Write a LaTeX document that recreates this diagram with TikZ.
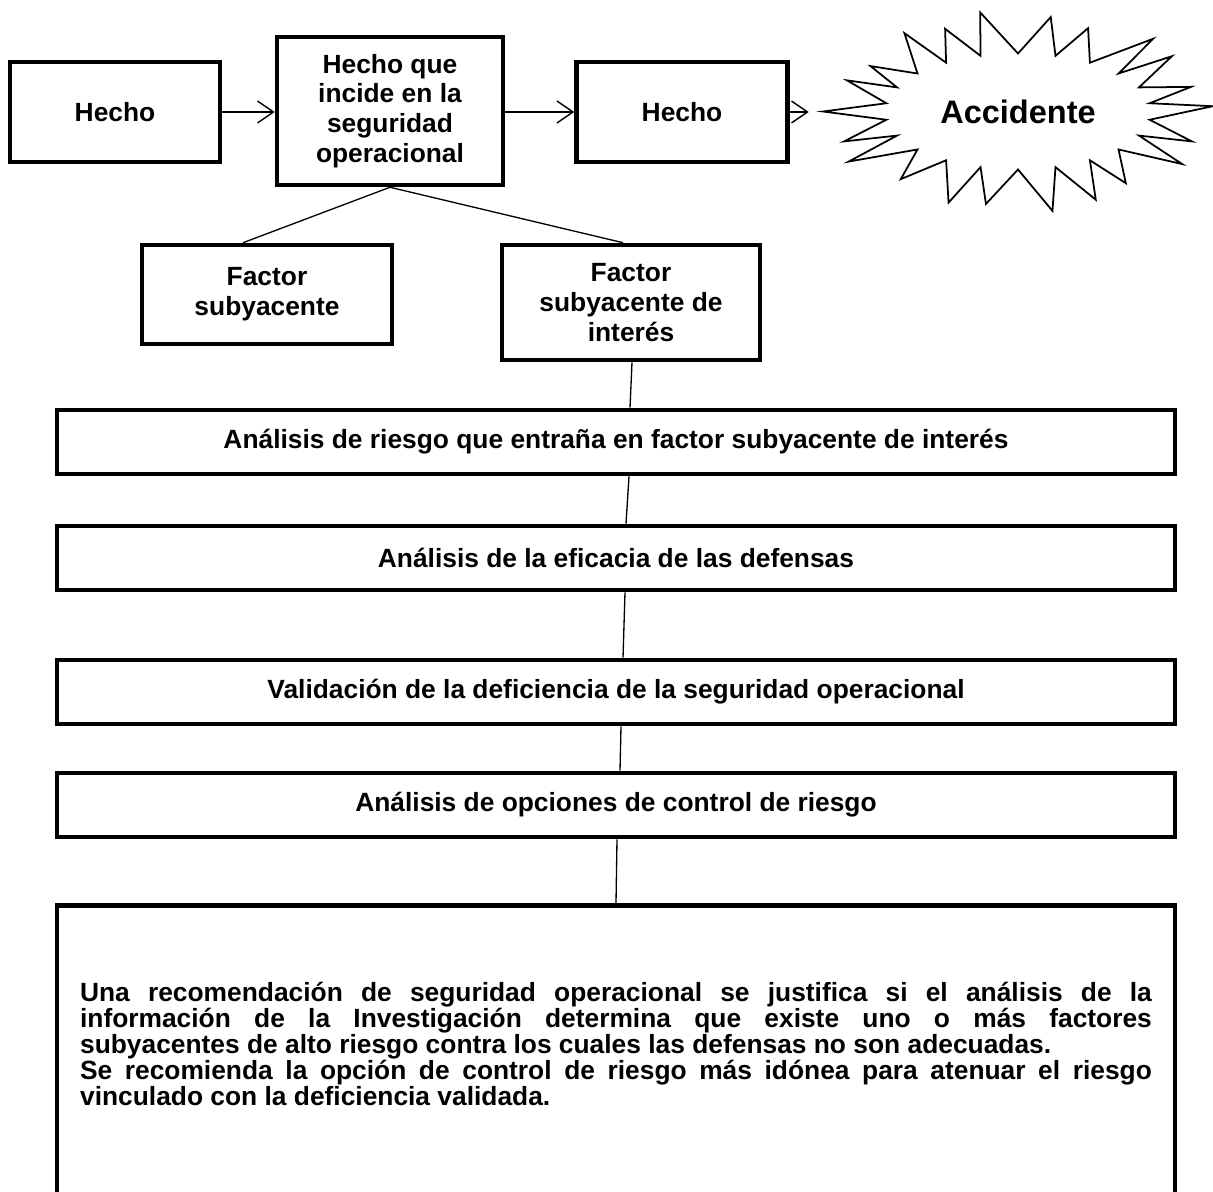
\documentclass[tikz,border=0pt]{standalone}
\usepackage{fontspec}
\setmainfont{Liberation Sans}
\usetikzlibrary{arrows.meta,calc,shapes.geometric}

\begin{document}
\begin{tikzpicture}[
      x=0.02cm, y=-0.02cm,
      font=\bfseries\fontsize{15}{17}\selectfont,
      box/.style={draw, line width=2.6pt, align=center, inner sep=2pt},
      wide/.style={box, minimum width=22.36cm, minimum height=1.28cm},
      flow/.style={line width=0.8pt, -{Straight Barb[length=3.2mm, width=4.4mm]}},
      link/.style={line width=0.75pt},
      burst/.style={line width=1pt, line join=miter},
      core/.style={ellipse, minimum width=7.8cm, minimum height=4.06cm, inner sep=0pt,
                   font=\bfseries\fontsize{18.5}{20}\selectfont}
  ]
    \useasboundingbox (0,0) rectangle (1213,1192);

    \node[box, minimum width=4.2cm, minimum height=2cm] (h1) at (115,112) {Hecho};
    \node[box, minimum width=4.52cm, minimum height=2.96cm] (hs) at (390,111)
        {Hecho que\\incide en la\\seguridad\\operacional};
    \node[box, minimum width=4.22cm, minimum height=2cm] (h2) at (682,112) {Hecho};
    \node[core] (acc) at (1018,111.5) {Accidente};

    \begin{scope}[shift={(acc.center)}]
      \draw[burst] (-195,0)
        \foreach \k/\f/\j in {1/.93/3,2/.88/-2,3/.97/4,4/.9/0,5/1/-3,6/.95/2,7/.9/-1,8/1/3,9/.96/-2,
                              10/.92/1,11/1/-3,12/.94/2,13/.99/-1,14/.9/3,15/.96/0,16/1/-2,17/.93/2,
                              18/.97/-3,19/.9/1,20/1/3,21/.94/-2} {
          -- ({133*cos(180+(\k-0.5)*16.3636)},{58*sin(180+(\k-0.5)*16.3636)})
          -- ({195*\f*cos(180+\k*16.3636+\j)},{101*\f*sin(180+\k*16.3636+\j)})
        } -- ({133*cos(531.82)},{58*sin(531.82)}) -- cycle;
    \end{scope}

    \node[box, minimum width=5cm, minimum height=1.98cm] (fs) at (267,294.5) {Factor\\subyacente};
    \node[box, minimum width=5.16cm, minimum height=2.3cm] (fi) at (631,302.5)
        {Factor\\subyacente de\\interés};

    \node[wide] (a1) at (616,442) {Análisis de riesgo que entraña en factor subyacente de interés};
    \node[wide] (a2) at (616,558) {Análisis de la eficacia de las defensas};
    \node[wide] (a3) at (616,692) {Validación de la deficiencia de la seguridad operacional};
    \node[wide] (a4) at (616,805) {Análisis de opciones de control de riesgo};
    \node[box, anchor=north, minimum height=6.04cm, text width=21.44cm, inner xsep=0.46cm,
          align=justify, font=\bfseries\fontsize{15}{14.8}\selectfont] (big) at (616,903)
        {\hyphenpenalty=10000\tolerance=9999
         Una recomendación de seguridad operacional se justifica si el análisis de la\linebreak
         información de la Investigación determina que existe uno o más factores\linebreak
         subyacentes de alto riesgo contra los cuales las defensas no son adecuadas.\par
         Se recomienda la opción de control de riesgo más idónea para atenuar el riesgo\linebreak
         vinculado con la deficiencia validada.\par\vspace{0.48cm}\hrule height 0pt};

    \draw[flow] (h1.east) -- (h1.east -| hs.west);
    \draw[flow] (hs.east |- h2.west) -- (h2.west);
    \draw[flow, shorten >=0.28cm] (h2.east) -- (h2.east -| acc.west);

    \draw[link] (hs.south) -- ($(fs.north)+(-24,0)$);
    \draw[link] (hs.south) -- ($(fi.north)+(-8,0)$);

    \foreach \u/\v/\du/\dv in {fi/a1/1/14, a1/a2/13/10, a2/a3/9/7, a3/a4/5/4, a4/big/1/0}
      \draw[link] ($(\u.south)+(\du,0)$) -- ($(\v.north)+(\dv,0)$);
  \end{tikzpicture}
\end{document}
